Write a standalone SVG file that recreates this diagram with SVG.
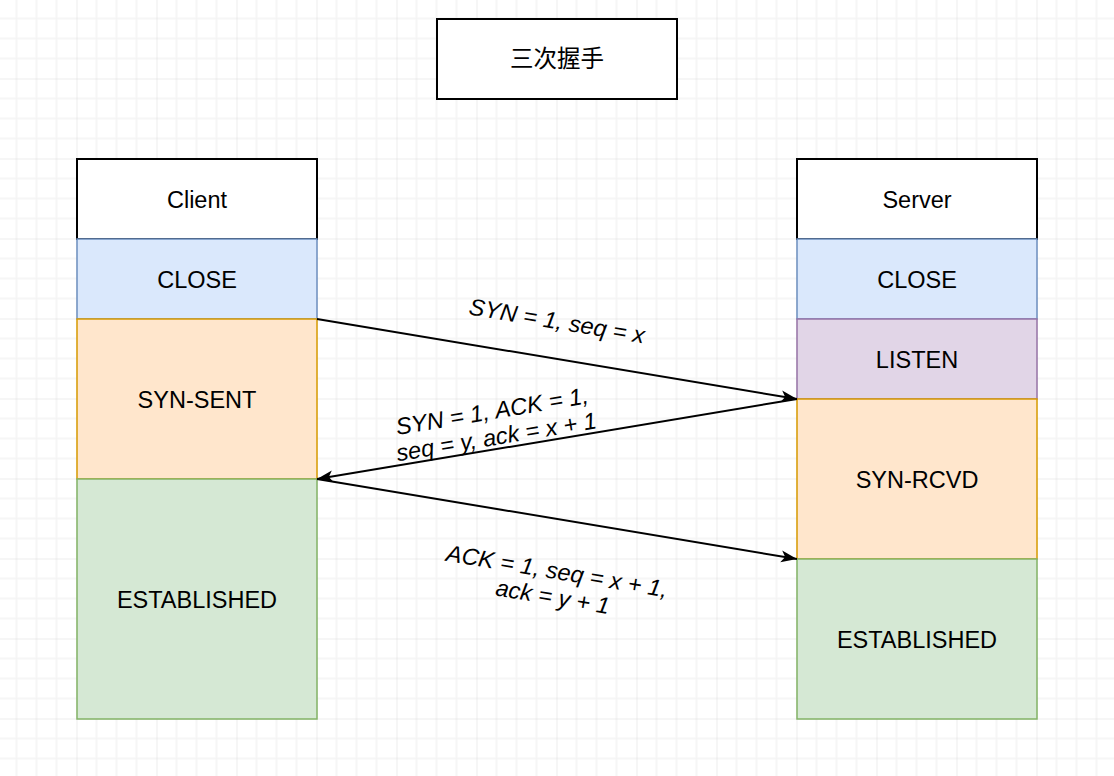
<svg xmlns="http://www.w3.org/2000/svg" width="1114" height="776" viewBox="0 0 1114 776">
<defs>
<pattern id="grid" patternUnits="userSpaceOnUse" x="-3.5" y="-1.5" width="80" height="80">
<path d="M20,0V80M40,0V80M60,0V80M0,20H80M0,40H80M0,60H80" stroke="#f4f4f4" stroke-width="1.5" fill="none"/>
<path d="M0,0V80M0,0H80" stroke="#dadada" stroke-width="1" fill="none"/>
</pattern>
<marker id="arr" markerUnits="userSpaceOnUse" markerWidth="20" markerHeight="14" viewBox="-17 -7 20 14" refX="0" refY="0" orient="auto">
<path d="M-16,-6 L0,0 L-16,6 L-12,0 z" fill="#000"/>
</marker>
<style>
.lbl{font-family:"Liberation Sans",Arial,sans-serif;font-size:23.5px;fill:#000;text-anchor:middle}
.el{font-family:"Liberation Sans",Arial,sans-serif;font-size:23.5px;font-style:italic;fill:#000;text-anchor:middle}
.hdr{fill:#fff;stroke:#000;stroke-width:2}
.blue{fill:#dae8fc;stroke:#6c8ebf;stroke-width:1.5}
.orange{fill:#ffe6cc;stroke:#d79b00;stroke-width:1.5}
.purple{fill:#e1d5e7;stroke:#9673a6;stroke-width:1.5}
.green{fill:#d5e8d4;stroke:#82b366;stroke-width:1.5}
.edge{stroke:#000;stroke-width:2;fill:none;marker-end:url(#arr)}
</style>
</defs>
<rect width="1114" height="776" fill="#fff"/>
<rect width="1114" height="776" fill="url(#grid)"/>

<g id="title">
<rect x="437" y="19" width="240" height="80" class="hdr"/>
<text x="557" y="67" class="lbl" style="font-family:'Noto Sans CJK SC',sans-serif">三次握手</text>
</g>

<g id="client">
<rect x="77" y="159" width="240" height="80" class="hdr"/>
<text x="197" y="207.5" class="lbl">Client</text>
</g>
<g id="client-close">
<rect x="77" y="239" width="240" height="80" class="blue"/>
<text x="197" y="287.5" class="lbl">CLOSE</text>
</g>
<g id="client-synsent">
<rect x="77" y="319" width="240" height="160" class="orange"/>
<text x="197" y="407.5" class="lbl">SYN-SENT</text>
</g>
<g id="client-established">
<rect x="77" y="479" width="240" height="240" class="green"/>
<text x="197" y="607.5" class="lbl">ESTABLISHED</text>
</g>

<g id="server">
<rect x="797" y="159" width="240" height="80" class="hdr"/>
<text x="917" y="207.5" class="lbl">Server</text>
</g>
<g id="server-close">
<rect x="797" y="239" width="240" height="80" class="blue"/>
<text x="917" y="287.5" class="lbl">CLOSE</text>
</g>
<g id="server-listen">
<rect x="797" y="319" width="240" height="80" class="purple"/>
<text x="917" y="367.5" class="lbl">LISTEN</text>
</g>
<g id="server-synrcvd">
<rect x="797" y="399" width="240" height="160" class="orange"/>
<text x="917" y="487.5" class="lbl">SYN-RCVD</text>
</g>
<g id="server-established">
<rect x="797" y="559" width="240" height="160" class="green"/>
<text x="917" y="647.5" class="lbl">ESTABLISHED</text>
</g>

<g id="connectors">
<line x1="317" y1="319" x2="797" y2="399" class="edge"/>
<line x1="797" y1="399" x2="317" y2="479" class="edge"/>
<line x1="317" y1="479" x2="797" y2="559" class="edge"/>
<text class="el" transform="translate(557,321) rotate(9.46)" y="8">SYN = 1, seq = x</text>
<text class="el" transform="translate(494,423) rotate(-9.46)"><tspan x="0" y="-4">SYN = 1, ACK = 1,</tspan><tspan x="0" y="22">seq = y, ack = x + 1</tspan></text>
<text class="el" transform="translate(555,583) rotate(9.46)"><tspan x="0" y="-4">ACK = 1, seq = x + 1,</tspan><tspan x="0" y="22">ack = y + 1</tspan></text>
</g>
</svg>
